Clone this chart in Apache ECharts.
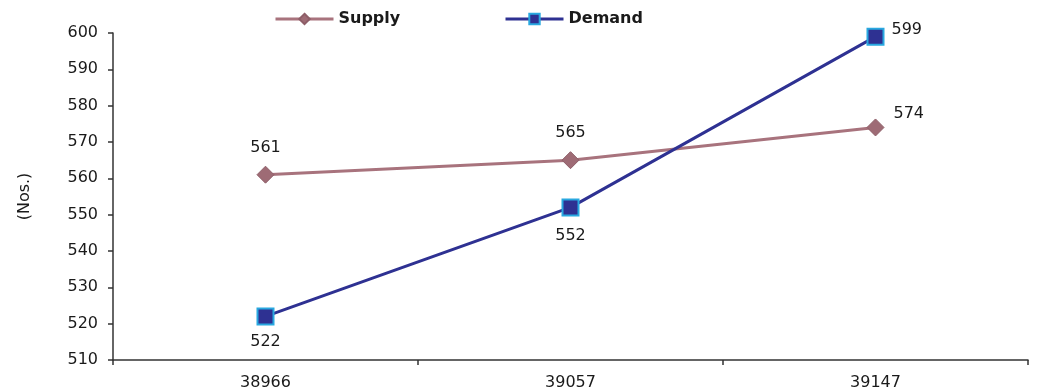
<!DOCTYPE html>
<html>
<head>
<meta charset="utf-8">
<script src="https://cdn.jsdelivr.net/npm/echarts@6/dist/echarts.min.js"></script>
<style>
  html, body { margin: 0; padding: 0; background: #fff; }
  #chart { width: 1037px; height: 392px; }
</style>
</head>
<body>
<div id="chart"></div>
<script>
  // data
  var categories = ['38966', '39057', '39147'];
  var supply     = [561, 565, 574];
  var demand     = [522, 552, 599];

  var FONT = 'DejaVu Sans, Liberation Sans, Arial, sans-serif';
  var AXIS = '#333';
  var TEXT = '#1a1a1a';

  var myChart = echarts.init(document.getElementById('chart'), null, { renderer: 'canvas' });

  // last point gets its label to the right, first one may sit a bit closer
  function labelled(vals, offset, firstDist) {
    return vals.map(function (v, i) {
      if (i == vals.length - 1) {
        return { value: v, label: { position: 'right', offset: offset } };
      }
      if (i == 0 && firstDist != null) {
        return { value: v, label: { distance: firstDist } };
      }
      return v;
    });
  }

  function legendAt(left, name) {
    return {
      top: 6, left: left, itemWidth: 58, itemHeight: 13, itemGap: 0,
      lineStyle: { width: 3 },
      textStyle: { fontFamily: FONT, fontSize: 16, fontWeight: 'bold', color: TEXT },
      data: [name]
    };
  }

  var option = {
    animation: false,
    textStyle: { fontFamily: FONT },
    legend: [legendAt(269, 'Supply'), legendAt(499, 'Demand')],
    grid: { left: 113, right: 9, top: 33, bottom: 32, containLabel: false },
    xAxis: {
      type: 'category', data: categories, boundaryGap: true,
      axisLine: { lineStyle: { color: AXIS, width: 1.5 } },
      axisTick: { show: true, length: 5, lineStyle: { color: AXIS, width: 1.5 } },
      axisLabel: { color: TEXT, fontSize: 16, margin: 15 }
    },
    yAxis: {
      type: 'value', min: 510, max: 600, interval: 10,
      name: '(Nos.)', nameLocation: 'middle', nameRotate: 90, nameGap: 80,
      nameTextStyle: { color: TEXT, fontSize: 16 },
      axisLine: { show: true, lineStyle: { color: AXIS, width: 1.5 } },
      axisTick: { show: true, length: 5, lineStyle: { color: AXIS, width: 1.5 } },
      axisLabel: { color: TEXT, fontSize: 16, margin: 15 },
      splitLine: { show: false }
    },
    series: [
      {
        name: 'Supply', type: 'line', data: labelled(supply, [-1, -14]),
        symbol: 'diamond', symbolSize: 17,
        lineStyle: { color: '#A8737D', width: 3 },
        itemStyle: { color: '#9E6B75', borderColor: '#8E5E68', borderWidth: 1 },
        label: { show: true, position: 'top', distance: 10, color: TEXT, fontSize: 16 }
      },
      {
        name: 'Demand', type: 'line', data: labelled(demand, [-4, -7], 8),
        symbol: 'rect', symbolSize: 16,
        lineStyle: { color: '#2E3192', width: 3 },
        itemStyle: { color: '#2E3192', borderColor: '#29A8E0', borderWidth: 2 },
        label: { show: true, position: 'bottom', distance: 11, color: TEXT, fontSize: 16 }
      }
    ]
  };
  myChart.setOption(option);
</script>
</body>
</html>
